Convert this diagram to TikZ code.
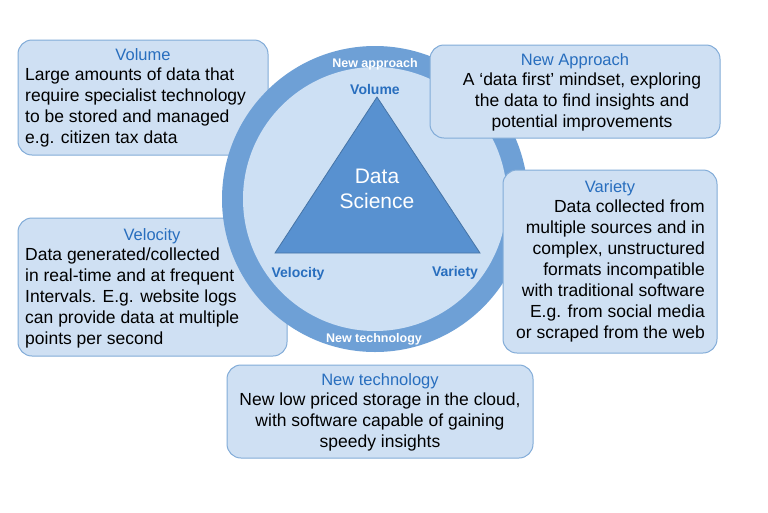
\documentclass[tikz,border=0pt]{standalone}
\usepackage{fontspec}
\setmainfont{Liberation Sans}
\begin{document}
\begin{tikzpicture}[x=1pt,y=-1pt,
  box/.style={draw=boxline,fill=boxfill,rounded corners=14pt,line width=1pt},
  ttl/.style={text=titleblue,font=\fontsize{16.5}{18}\selectfont,anchor=north},
  body/.style={font=\fontsize{17.5}{21}\selectfont,anchor=north,inner sep=0pt},
  corner/.style={text=titleblue,font=\bfseries\fontsize{14}{16}\selectfont},
  ringtxt/.style={text=white,font=\bfseries\fontsize{12.5}{14}\selectfont}]
\definecolor{boxfill}{RGB}{207,224,243}
\definecolor{boxline}{RGB}{130,172,216}
\definecolor{titleblue}{RGB}{40,110,190}
\definecolor{ring}{RGB}{110,160,214}
\definecolor{inner}{RGB}{205,224,244}
\definecolor{tri}{RGB}{88,145,208}
\useasboundingbox (0,0) rectangle (768,512);
\fill[white] (0,0) rectangle (768,512);
% left boxes, under the circle
\draw[box] (18,40) rectangle (268,155);
\node[ttl] (t1) at (143,45) {Volume};
\node[body,align=left,anchor=north west] (b1) at (25,68) {Large amounts of data that\\require specialist technology\\to be stored and managed\\e.g. citizen tax data};
\draw[box] (18,218) rectangle (287,356);
\node[ttl] (t4) at (152,225) {Velocity};
\node[body,align=left,anchor=north west] (b4) at (25,248) {Data generated/collected\\in real-time and at frequent\\Intervals. E.g. website logs\\can provide data at multiple\\points per second};
% circle and triangle
\fill[ring] (375,199) circle (153);
\fill[inner] (375,199) circle (132);
\draw[fill=tri,draw=tri!80!black,line width=0.8pt] (377,97) -- (275,253) -- (480,253) -- cycle;
\node[text=white,font=\fontsize{21}{25}\selectfont,align=center] (ds) at (377,189) {Data\\Science};
\node[corner] (vol) at (375,89) {Volume};
\node[corner] (vel) at (298,274) {Velocity};
\node[corner] (var) at (455,273) {Variety};
\node[ringtxt] (na) at (375,64) {New approach};
\node[ringtxt] (nt) at (374,339) {New technology};
% right and bottom boxes, over the circle
\draw[box] (430,45) rectangle (720,138);
\node[ttl] (t2) at (575,50) {New Approach};
\node[body,align=center] (b2) at (582,73) {A `data first' mindset, exploring\\the data to find insights and\\potential improvements};
\draw[box] (503,170) rectangle (717,353);
\node[ttl] (t3) at (610,177) {Variety};
\node[body,align=right,anchor=north east] (b3) at (705,200) {Data collected from\\multiple sources and in\\complex, unstructured\\formats incompatible\\with traditional software\\E.g. from social media\\or scraped from the web};
\draw[box] (227,365) rectangle (533,458);
\node[ttl] (t5) at (380,370) {New technology};
\node[body,align=center] (b5) at (380,393) {New low priced storage in the cloud,\\with software capable of gaining\\speedy insights};
\end{tikzpicture}
\end{document}
